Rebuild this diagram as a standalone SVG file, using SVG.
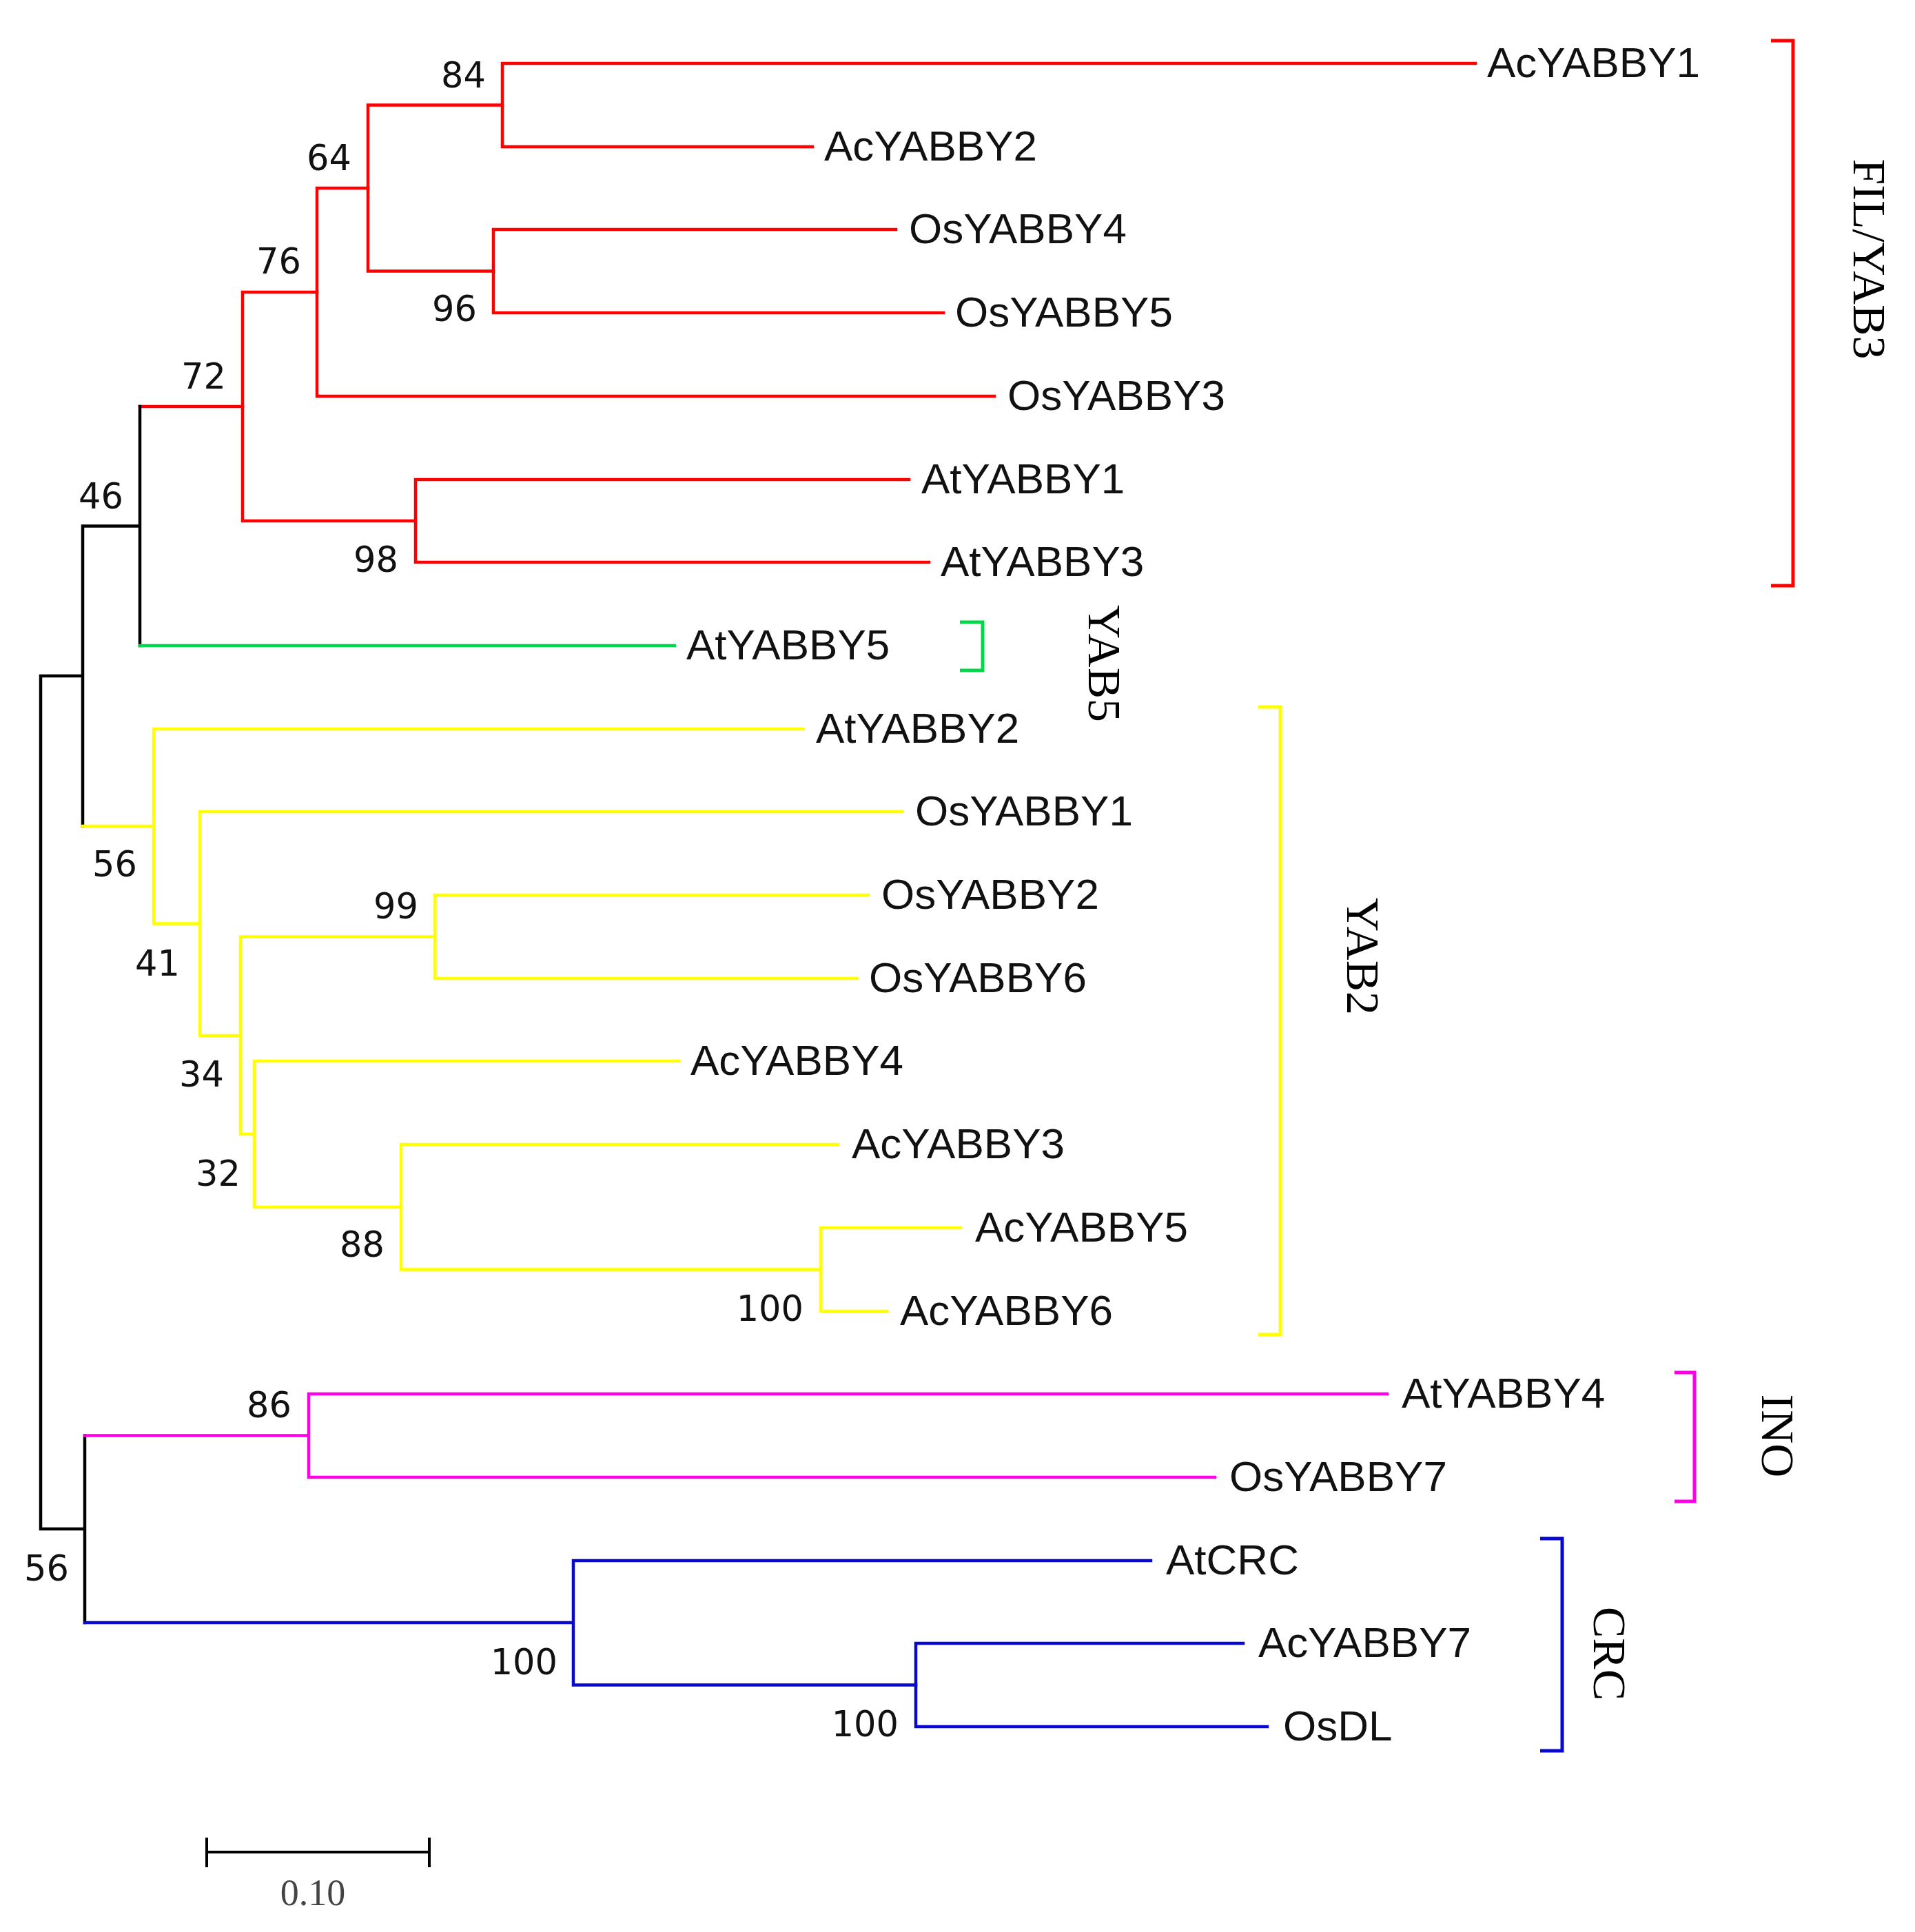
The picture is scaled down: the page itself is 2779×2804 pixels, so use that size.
<svg xmlns="http://www.w3.org/2000/svg" width="2779" height="2804" viewBox="0 0 2779 2804">
<style>
.e{fill:none;stroke-width:4.5;stroke-linecap:square}
.k{stroke:#000}
.r{stroke:#ff0000}
.g{stroke:#00d84a}
.y{stroke:#ffff00}
.m{stroke:#ff00e6}
.b{stroke:#0808d0}
.br{fill:none;stroke-width:5}
.leaf{font-family:"Liberation Sans",Arial,sans-serif;font-size:62px;fill:#111}
.bs{font-family:"DejaVu Sans",Verdana,sans-serif;font-size:51px;fill:#111;text-anchor:end}
.cl{font-family:"Liberation Serif","Times New Roman",serif;font-size:68px;fill:#000;text-anchor:middle}
</style>
<rect width="2779" height="2804" fill="#fff"/>
<g id="connectors">
<path class="e r" d="M729 92V213M729 92H2141M729 213H1179"/>
<path class="e r" d="M716 333V454M716 333H1300M716 454H1369"/>
<path class="e r" d="M534 152.5V393.5M534 152.5H729M534 393.5H716"/>
<path class="e r" d="M460 273V575M460 273H534M460 575H1443"/>
<path class="e r" d="M603 696V816M603 696H1319M603 816H1348"/>
<path class="e r" d="M352 424V756M352 424H460M352 756H603"/>
<path class="e r" d="M203 590H352"/>
<path class="e k" d="M203 590V937M120 763.5H203M120 763.5V1199M59 981V2219M59 981H120M59 2219H123M123 2083.5V2355"/>
<path class="e g" d="M203 937H979"/>
<path class="e y" d="M120 1199H223M223 1058V1340.5M223 1058H1165M223 1340.5H290"/>
<path class="e y" d="M290 1178V1503M290 1178H1309M290 1503H349"/>
<path class="e y" d="M349 1359.5V1646M349 1359.5H631M349 1646H369"/>
<path class="e y" d="M631 1299V1420M631 1299H1260M631 1420H1244"/>
<path class="e y" d="M369 1540V1752M369 1540H985M369 1752H582"/>
<path class="e y" d="M582 1661V1842.5M582 1661H1216M582 1842.5H1191"/>
<path class="e y" d="M1191 1782V1903M1191 1782H1394M1191 1903H1287"/>
<path class="e m" d="M123 2083.5H448M448 2023V2144M448 2023H2013M448 2144H1763"/>
<path class="e b" d="M123 2355H832M832 2265V2445.5M832 2265H1670M832 2445.5H1329"/>
<path class="e b" d="M1329 2385V2506M1329 2385H1804M1329 2506H1839"/>
</g>
<g id="leaves">
<g id="AcYABBY1"><text class="leaf" x="2158" y="112">AcYABBY1</text></g>
<g id="AcYABBY2"><text class="leaf" x="1196" y="233">AcYABBY2</text></g>
<g id="OsYABBY4"><text class="leaf" x="1319" y="353">OsYABBY4</text></g>
<g id="OsYABBY5"><text class="leaf" x="1386" y="474">OsYABBY5</text></g>
<g id="OsYABBY3"><text class="leaf" x="1462" y="595">OsYABBY3</text></g>
<g id="AtYABBY1"><text class="leaf" x="1337" y="716">AtYABBY1</text></g>
<g id="AtYABBY3"><text class="leaf" x="1365" y="836">AtYABBY3</text></g>
<g id="AtYABBY5"><text class="leaf" x="996" y="957">AtYABBY5</text></g>
<g id="AtYABBY2"><text class="leaf" x="1184" y="1078">AtYABBY2</text></g>
<g id="OsYABBY1"><text class="leaf" x="1328" y="1198">OsYABBY1</text></g>
<g id="OsYABBY2"><text class="leaf" x="1279" y="1319">OsYABBY2</text></g>
<g id="OsYABBY6"><text class="leaf" x="1261" y="1440">OsYABBY6</text></g>
<g id="AcYABBY4"><text class="leaf" x="1002" y="1560">AcYABBY4</text></g>
<g id="AcYABBY3"><text class="leaf" x="1236" y="1681">AcYABBY3</text></g>
<g id="AcYABBY5"><text class="leaf" x="1415" y="1802">AcYABBY5</text></g>
<g id="AcYABBY6"><text class="leaf" x="1306" y="1923">AcYABBY6</text></g>
<g id="AtYABBY4"><text class="leaf" x="2034" y="2043">AtYABBY4</text></g>
<g id="OsYABBY7"><text class="leaf" x="1784" y="2164">OsYABBY7</text></g>
<g id="AtCRC"><text class="leaf" x="1692" y="2285">AtCRC</text></g>
<g id="AcYABBY7"><text class="leaf" x="1826" y="2405">AcYABBY7</text></g>
<g id="OsDL"><text class="leaf" x="1862" y="2526">OsDL</text></g>
</g>
<g id="internal-nodes">
<g id="n84"><text class="bs" x="705" y="127">84</text></g>
<g id="n64"><text class="bs" x="510" y="247">64</text></g>
<g id="n76"><text class="bs" x="437" y="397">76</text></g>
<g id="n72"><text class="bs" x="328" y="564">72</text></g>
<g id="n46"><text class="bs" x="179" y="738">46</text></g>
<g id="n96"><text class="bs" x="692" y="466">96</text></g>
<g id="n98"><text class="bs" x="578" y="830">98</text></g>
<g id="n56a"><text class="bs" x="199" y="1272">56</text></g>
<g id="n41"><text class="bs" x="261" y="1416">41</text></g>
<g id="n99"><text class="bs" x="607" y="1333">99</text></g>
<g id="n34"><text class="bs" x="325" y="1577">34</text></g>
<g id="n32"><text class="bs" x="349" y="1721">32</text></g>
<g id="n88"><text class="bs" x="558" y="1824">88</text></g>
<g id="n100a"><text class="bs" x="1166" y="1917">100</text></g>
<g id="n86"><text class="bs" x="423" y="2057">86</text></g>
<g id="n56b"><text class="bs" x="100" y="2294">56</text></g>
<g id="n100b"><text class="bs" x="809" y="2430">100</text></g>
<g id="n100c"><text class="bs" x="1304" y="2520">100</text></g>
</g>
<g id="clades">
<g id="clade-FIL-YAB3"><path class="br r" d="M2570 59H2602V850H2570"/><text class="cl" transform="translate(2690 376) rotate(90)">FIL/YAB3</text></g>
<g id="clade-YAB5"><path class="br g" d="M1393 903H1426V973H1393"/><text class="cl" transform="translate(1580 963) rotate(90)">YAB5</text></g>
<g id="clade-YAB2"><path class="br y" d="M1826 1026H1858V1937H1826"/><text class="cl" transform="translate(1955 1388) rotate(90)">YAB2</text></g>
<g id="clade-INO"><path class="br m" d="M2430 1992H2459V2179H2430"/><text class="cl" transform="translate(2557 2084) rotate(90)">INO</text></g>
<g id="clade-CRC"><path class="br b" d="M2235 2233H2267V2541H2235"/><text class="cl" transform="translate(2313 2400) rotate(90)">CRC</text></g>
</g>
<g id="scale-bar">
<path d="M300 2688H623M300 2667V2710M623 2667V2710" fill="none" stroke="#000" stroke-width="4"/>
<text x="454" y="2765" font-family="'Liberation Serif','Times New Roman',serif" font-size="54" fill="#444" text-anchor="middle">0.10</text>
</g>
</svg>
